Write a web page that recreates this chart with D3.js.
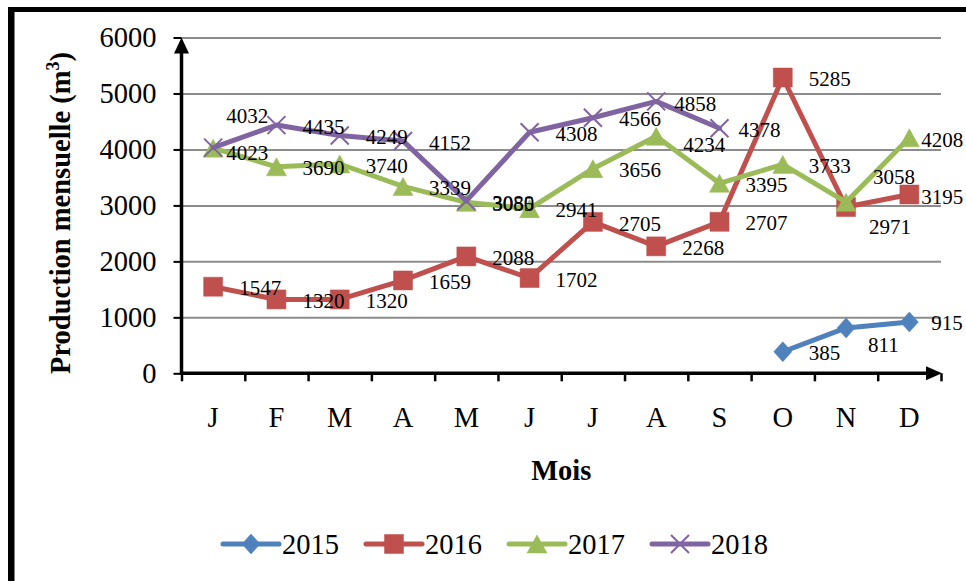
<!DOCTYPE html>
<html>
<head>
<meta charset="utf-8">
<script src="https://cdn.jsdelivr.net/npm/d3@7"></script>
<style>
  html, body { margin: 0; padding: 0; background: #ffffff; }
  svg { display: block; }
  text { font-family: "Liberation Serif", "Times New Roman", serif; fill: #000; }
</style>
</head>
<body>
<svg id="chart" width="966" height="581"></svg>
<script>
// Monthly production per year (m3)
const months = ["J", "F", "M", "A", "M", "J", "J", "A", "S", "O", "N", "D"];
const years = ["2015", "2016", "2017", "2018"];
const prod2015 = [null, null, null, null, null, null, null, null, null, 385, 811, 915];
const prod2016 = [1547, 1320, 1320, 1659, 2088, 1702, 2705, 2268, 2707, 5285, 2971, 3195];
const prod2017 = [4023, 3690, 3740, 3339, 3055, 2941, 3656, 4234, 3395, 3733, 3058, 4208];
const prod2018 = [4032, 4435, 4249, 4152, 3080, 4308, 4566, 4858, 4378, null, null, null];
const yTicks = [0, 1000, 2000, 3000, 4000, 5000, 6000];

const seriesValues = [prod2015, prod2016, prod2017, prod2018];
const colors = ["#4F81BD", "#C0504D", "#9BBB59", "#8064A2"];
const markerPaths = [
  "M0,-10L9,0L0,10L-9,0Z",          // diamond
  "M-9.5,-9.5H9.5V9.5H-9.5Z",        // square
  "M0,-9L10,9L-10,9Z",              // triangle
  "M-9,-9L9,9M-9,9L9,-9"            // cross
];

// Data label placement: [left-edge offset, vertical offset of text centre]
const labelDefault = [26, 1.5];
const labelNudge = [
  { 10: [22, 17], 11: [22, 1] },
  { 10: [23, 20], 11: [12, 2] },
  { 0: [13, 5], 7: [27, 9], 10: [27, -25], 11: [12, 2] },
  { 0: [13, -32], 7: [18, 2], 8: [19, 2] }
];

const svg = d3.select("#chart");
const W = 966, H = 581;
const plot = { left: 181.5, right: 941, top: 37.5, bottom: 373.3 };

svg.append("rect").attr("width", W).attr("height", H).attr("fill", "#fff");

// Outer frame (top and left edges)
svg.append("rect").attr("x", 8).attr("y", 7).attr("width", W - 8).attr("height", 5).attr("fill", "#000");
svg.append("rect").attr("x", 8).attr("y", 7).attr("width", 6.5).attr("height", H - 7).attr("fill", "#000");

const x = d3.scaleBand().domain(d3.range(months.length)).range([plot.left, plot.right]).padding(0);
const xEdge = d3.scaleLinear().domain([0, months.length]).range([plot.left, plot.right]);
const y = d3.scaleLinear().domain([0, 6000]).range([plot.bottom, plot.top]);
const xc = i => x(i) + x.bandwidth() / 2;

// Gridlines
const grid = svg.append("g").attr("transform", `translate(${plot.left},0)`)
  .call(d3.axisLeft(y).tickValues(yTicks.filter(v => v > 0)).tickSize(-(plot.right - plot.left)).tickFormat(""));
grid.select(".domain").remove();
grid.selectAll(".tick line").attr("stroke", "#8c8c8c").attr("stroke-width", 2);

// Y axis with ticks and labels
const yAxis = svg.append("g").attr("transform", `translate(${plot.left},0)`)
  .call(d3.axisLeft(y).tickValues(yTicks).tickSize(8).tickPadding(17).tickFormat(d3.format("d")));
yAxis.select(".domain").remove();
yAxis.selectAll(".tick line").attr("stroke", "#000").attr("stroke-width", 2);
yAxis.selectAll(".tick text").attr("font-family", "Liberation Serif, Times New Roman, serif")
  .attr("font-size", 28.5).attr("fill", "#000");
svg.append("line").attr("x1", plot.left).attr("x2", plot.left)
  .attr("y1", plot.bottom + 1.5).attr("y2", plot.top + 8)
  .attr("stroke", "#000").attr("stroke-width", 3.5);
svg.append("path")
  .attr("d", `M${plot.left},${plot.top}L${plot.left + 7.5},${plot.top + 16}L${plot.left - 7.5},${plot.top + 16}Z`)
  .attr("fill", "#000");

// X axis: ticks on category edges, month letters centred
const xTicks = svg.append("g").attr("transform", `translate(0,${plot.bottom})`)
  .call(d3.axisBottom(xEdge).tickValues(d3.range(months.length + 1)).tickSize(8).tickFormat(""));
xTicks.select(".domain").remove();
xTicks.selectAll(".tick line").attr("stroke", "#000").attr("stroke-width", 2.5);
const xLabels = svg.append("g").attr("transform", `translate(0,${plot.bottom})`)
  .call(d3.axisBottom(x).tickSize(0).tickPadding(0).tickFormat(i => months[i]));
xLabels.select(".domain").remove();
xLabels.selectAll(".tick text").attr("font-family", "Liberation Serif, Times New Roman, serif")
  .attr("font-size", 28.5).attr("fill", "#000").attr("dy", null).attr("y", 53.5);
svg.append("line").attr("x1", plot.left - 1.5).attr("x2", plot.right - 10)
  .attr("y1", plot.bottom).attr("y2", plot.bottom)
  .attr("stroke", "#000").attr("stroke-width", 3.5);
svg.append("path")
  .attr("d", `M${plot.right + 1},${plot.bottom}L${plot.right - 15},${plot.bottom - 7}L${plot.right - 15},${plot.bottom + 7}Z`)
  .attr("fill", "#000");

// Axis titles
svg.append("text").attr("x", (plot.left + plot.right) / 2).attr("y", 480)
  .attr("text-anchor", "middle").attr("font-size", 28.5).attr("font-weight", "bold").text("Mois");
const yTitle = svg.append("text")
  .attr("transform", "translate(70,213) rotate(-90)")
  .attr("text-anchor", "middle").attr("font-size", 28.5).attr("font-weight", "bold");
yTitle.append("tspan").text("Production mensuelle (m");
yTitle.append("tspan").attr("font-size", 18).attr("dy", -11).text("3");
yTitle.append("tspan").attr("dy", 11).text(")");

// Series lines and markers
const line = d3.line().defined(d => d.v != null).x(d => xc(d.i)).y(d => y(d.v));
seriesValues.forEach((vals, s) => {
  const pts = vals.map((v, i) => ({ i, v }));
  const g = svg.append("g");
  g.append("path").datum(pts).attr("d", line)
    .attr("fill", "none").attr("stroke", colors[s]).attr("stroke-width", 5)
    .attr("stroke-linejoin", "round").attr("stroke-linecap", "round");
  g.selectAll("path.marker").data(pts.filter(d => d.v != null)).join("path")
    .attr("class", "marker")
    .attr("transform", d => `translate(${xc(d.i)},${y(d.v)})`)
    .attr("d", markerPaths[s])
    .attr("fill", s === 3 ? "none" : colors[s])
    .attr("stroke", colors[s]).attr("stroke-width", s === 3 ? 2 : 0.5);
});

// Data labels
seriesValues.forEach((vals, s) => {
  svg.append("g").selectAll("text").data(vals.map((v, i) => ({ i, v })).filter(d => d.v != null)).join("text")
    .attr("x", d => xc(d.i) + (labelNudge[s][d.i] || labelDefault)[0])
    .attr("y", d => y(d.v) + (labelNudge[s][d.i] || labelDefault)[1])
    .attr("dy", "0.34em")
    .attr("font-size", 21)
    .text(d => d.v);
});

// Legend
const legend = svg.append("g").attr("transform", "translate(223,544)");
years.forEach((yr, s) => {
  const g = legend.append("g").attr("transform", `translate(${s * 143},0)`);
  g.append("line").attr("x1", 0).attr("x2", 56).attr("y1", 0).attr("y2", 0)
    .attr("stroke", colors[s]).attr("stroke-width", 5).attr("stroke-linecap", "round");
  g.append("path").attr("transform", "translate(28,0)").attr("d", markerPaths[s])
    .attr("fill", s === 3 ? "none" : colors[s])
    .attr("stroke", colors[s]).attr("stroke-width", s === 3 ? 2 : 0.5);
  g.append("text").attr("x", 59).attr("y", 10).attr("font-size", 28.5).text(yr);
});
</script>
</body>
</html>
